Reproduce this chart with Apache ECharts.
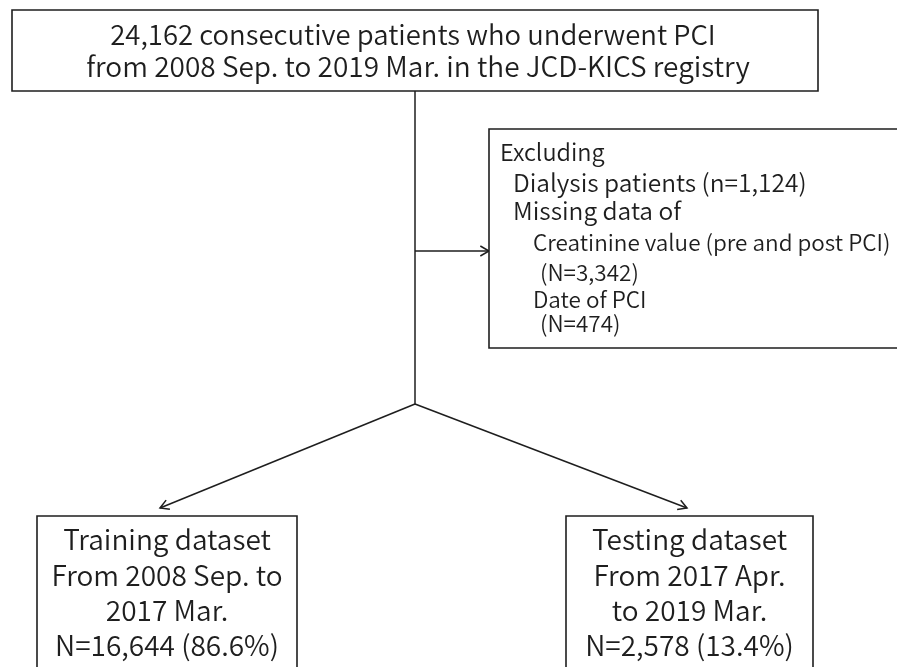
<!DOCTYPE html>
<html>
<head>
	<meta charset="utf-8" />
	<title>Patient flow</title>
	<script src="https://cdn.jsdelivr.net/npm/echarts@6/dist/echarts.min.js"></script>
	<style>html,body{margin:0;padding:0;background:#fff;}</style>
</head>
<body>
	<div id="main" style="width: 897px;height: 667px;"></div>
	<script type="text/javascript">

		// flow numbers
		var totalN = 24162;
		var totalLines = ['consecutive patients who underwent PCI', 'from 2008 Sep. to 2019 Mar. in the JCD-KICS registry'];
		var excludedLabels = ['Dialysis patients', 'Creatinine value (pre and post PCI)', 'Date of PCI'];
		var excludedN = [1124, 3342, 474];
		var groupLabels = ['Training dataset', 'Testing dataset'];
		var groupPeriods = [['From 2008 Sep. to', '2017 Mar.'], ['From 2017 Apr.', 'to 2019 Mar.']];
		var groupN = [16644, 2578];
		var groupPct = [86.6, 13.4];

		function fmt(n) { return n.toLocaleString('en-US'); }

		var FONT = '"Noto Sans CJK JP", "Noto Sans", sans-serif';
		var INK = '#1e1e1e';

		var myChart = echarts.init(document.getElementById('main'));

		function renderItem(params, api) {
			var c = function (x, y) { return api.coord([x, y]); };
			var kids = [];

			function box(x0, y0, x1, y1) {
				var a = c(x0, y0), b = c(x1, y1);
				kids.push({
					type: 'rect',
					shape: { x: a[0], y: a[1], width: b[0] - a[0], height: b[1] - a[1] },
					style: { fill: '#fff', stroke: INK, lineWidth: 1.6 }
				});
			}
			function text(str, x, y, size, align) {
				var p = c(x, y);
				kids.push({
					type: 'text',
					style: {
						text: str, x: p[0], y: p[1],
						font: '350 ' + size + 'px ' + FONT,
						fill: INK,
						textAlign: align || 'center',
						textVerticalAlign: 'middle'
					}
				});
			}
			function line(pts) {
				kids.push({
					type: 'polyline',
					shape: { points: pts.map(function (p) { return c(p[0], p[1]); }) },
					style: { stroke: INK, lineWidth: 1.5, fill: null }
				});
			}
			function arrow(from, to) {
				line([from, to]);
				var dx = to[0] - from[0], dy = to[1] - from[1];
				var len = Math.sqrt(dx * dx + dy * dy);
				var ux = dx / len, uy = dy / len;
				var L = 10, ang = Math.PI / 6;
				var cs = Math.cos(ang), sn = Math.sin(ang);
				var p1 = [to[0] - L * (ux * cs - uy * sn), to[1] - L * (uy * cs + ux * sn)];
				var p2 = [to[0] - L * (ux * cs + uy * sn), to[1] - L * (uy * cs - ux * sn)];
				line([p1, to, p2]);
			}

			// connectors
			line([[415, 91], [415, 404]]);
			arrow([415, 251], [489, 251]);
			arrow([415, 404], [160, 508]);
			arrow([415, 404], [687, 508]);

			// top box
			box(12, 10, 818, 91);
			text(fmt(totalN) + ' ' + totalLines[0], 413, 35, 27.5);
			text(totalLines[1], 418, 66, 28);

			// exclusion box
			box(489, 129, 930, 348);
			text('Excluding', 500, 152, 23.5, 'left');
			text(excludedLabels[0] + ' (n=' + fmt(excludedN[0]) + ')', 513, 183, 24.5, 'left');
			text('Missing data of', 513, 211, 24.5, 'left');
			text(excludedLabels[1], 533, 242, 22.5, 'left');
			text('(N=' + fmt(excludedN[1]) + ')', 540, 272, 22.5, 'left');
			text(excludedLabels[2], 533, 299, 22.5, 'left');
			text('(N=' + fmt(excludedN[2]) + ')', 540, 323, 22.5, 'left');

			// result boxes
			var bx = [[37, 297], [566, 813]];
			for (var i = 0; i < 2; i++) {
				box(bx[i][0], 516, bx[i][1], 700);
				var cx = (bx[i][0] + bx[i][1]) / 2;
				text(groupLabels[i], cx, 539, 28);
				text(groupPeriods[i][0], cx, 575, 28);
				text(groupPeriods[i][1], cx, 610, 28);
				text('N=' + fmt(groupN[i]) + ' (' + groupPct[i].toFixed(1) + '%)', cx, 645, 28);
			}

			return { type: 'group', children: kids };
		}

		var option = {
			animation: false,
			backgroundColor: '#fff',
			grid: { left: 0, right: 0, top: 0, bottom: 0 },
			xAxis: { type: 'value', min: 0, max: 897, show: false },
			yAxis: { type: 'value', min: 0, max: 667, inverse: true, show: false },
			series: [{
				type: 'custom',
				coordinateSystem: 'cartesian2d',
				clip: true,
				renderItem: renderItem,
				data: [[0, 0]]
			}]
		};

		myChart.setOption(option);
	</script>
</body>
</html>
